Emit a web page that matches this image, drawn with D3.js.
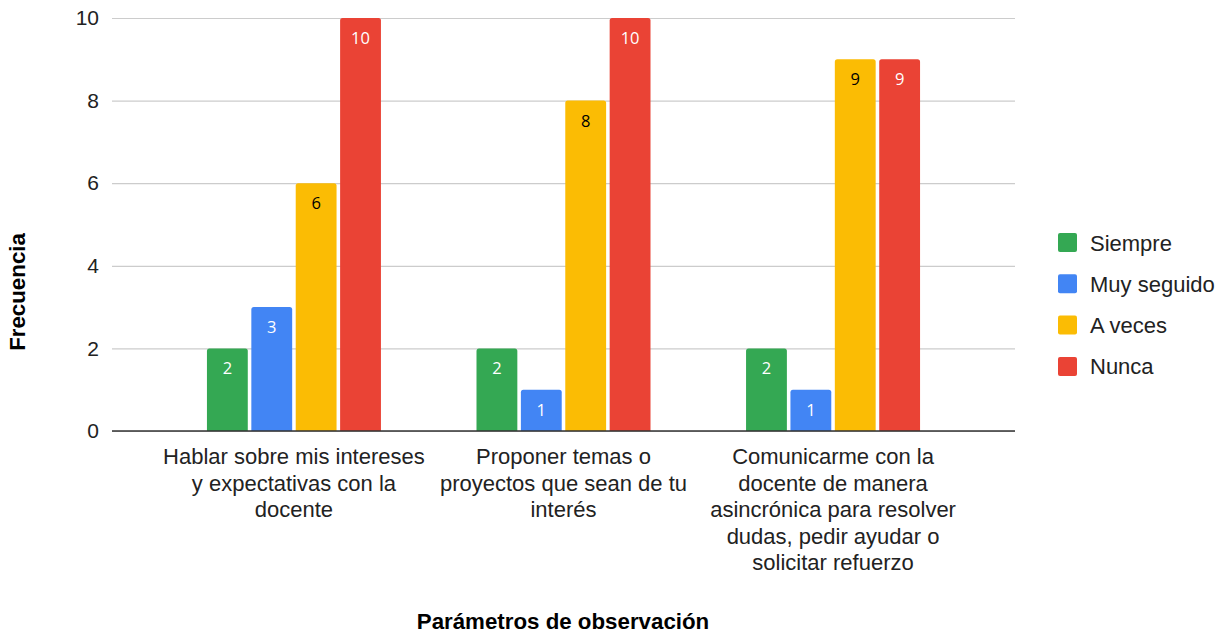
<!DOCTYPE html>
<html>
<head>
<meta charset="utf-8">
<script src="https://cdn.jsdelivr.net/npm/d3@7"></script>
<style>
  body { margin: 0; background: #fff; }
  svg { display: block; }
</style>
</head>
<body>
<svg id="chart" width="1225" height="633"></svg>
<script>

var categories = [
	[ 'Hablar sobre mis intereses', 'y expectativas con la', 'docente' ],
	[ 'Proponer temas o', 'proyectos que sean de tu', 'interés' ],
	[ 'Comunicarme con la', 'docente de manera', 'asincrónica para resolver', 'dudas, pedir ayudar o', 'solicitar refuerzo' ]
];
var seriesNames = [ 'Siempre', 'Muy seguido', 'A veces', 'Nunca' ];
var seriesColors = [ '#34a853', '#4285f4', '#fbbc04', '#ea4335' ];
var labelColors = [ '#ffffff', '#ffffff', '#000000', '#ffffff' ];
var siempre = [ 2, 2, 2 ];
var muySeguido = [ 3, 1, 1 ];
var aVeces = [ 6, 8, 9 ];
var nunca = [ 10, 10, 9 ];
var yTicks = [ 0, 2, 4, 6, 8, 10 ];

var values = [ siempre, muySeguido, aVeces, nunca ];

var font = '"Liberation Sans", Arial, sans-serif';
var plot = { left: 112, right: 1015, top: 18, bottom: 431 };
var svg = d3.select( '#chart' );

var x0 = d3.scalePoint()
	.domain( d3.range( categories.length ) )
	.range( [ plot.left, plot.right ] )
	.padding( 0.675 );

var x1 = d3.scaleBand()
	.domain( d3.range( seriesNames.length ) )
	.range( [ -87, 87 ] )
	.paddingInner( 0.08 );

var y = d3.scaleLinear().domain( [ 0, 10 ] ).range( [ plot.bottom, plot.top ] );

// gridlines + y labels
var yAxis = d3.axisLeft( y )
	.tickValues( yTicks )
	.tickSize( -( plot.right - plot.left ) )
	.tickPadding( 13 );

var gy = svg.append( 'g' )
	.attr( 'transform', 'translate(' + plot.left + ',0)' )
	.call( yAxis );
gy.select( '.domain' ).remove();
gy.selectAll( '.tick line' ).attr( 'stroke', '#cccccc' ).attr( 'stroke-width', 1.2 );
gy.selectAll( '.tick text' )
	.attr( 'font-family', font )
	.attr( 'font-size', 21 )
	.attr( 'fill', '#222' );

// bars
var bars = svg.append( 'g' );
values.forEach( function ( series, s ) {
	series.forEach( function ( v, c ) {
		var bx = x0( c ) + x1( s );
		var bw = x1.bandwidth();
		var by = y( v );
		var bh = y( 0 ) - by;
		var r = 2.5;
		bars.append( 'path' )
			.attr( 'fill', seriesColors[s] )
			.attr( 'd', 'M' + bx + ',' + ( by + bh ) +
				'V' + ( by + r ) +
				'Q' + bx + ',' + by + ' ' + ( bx + r ) + ',' + by +
				'H' + ( bx + bw - r ) +
				'Q' + ( bx + bw ) + ',' + by + ' ' + ( bx + bw ) + ',' + ( by + r ) +
				'V' + ( by + bh ) + 'Z' );
		bars.append( 'text' )
			.attr( 'x', bx + bw / 2 )
			.attr( 'y', by + 26 )
			.attr( 'text-anchor', 'middle' )
			.attr( 'font-family', '"Open Sans", Roboto, sans-serif' )
			.attr( 'font-size', 16.5 )
			.attr( 'fill', labelColors[s] )
			.text( v );
	} );
} );

// baseline
svg.append( 'line' )
	.attr( 'x1', plot.left ).attr( 'x2', plot.right )
	.attr( 'y1', y( 0 ) ).attr( 'y2', y( 0 ) )
	.attr( 'stroke', '#333' ).attr( 'stroke-width', 1.5 );

// category labels
categories.forEach( function ( lines, c ) {
	var t = svg.append( 'text' )
		.attr( 'text-anchor', 'middle' )
		.attr( 'font-family', font )
		.attr( 'font-size', 22 )
		.attr( 'fill', '#222' );
	lines.forEach( function ( line, i ) {
		t.append( 'tspan' )
			.attr( 'x', x0( c ) )
			.attr( 'y', 464 + i * 26.5 )
			.text( line );
	} );
} );

// axis titles
svg.append( 'text' )
	.attr( 'transform', 'translate(25,292) rotate(-90)' )
	.attr( 'text-anchor', 'middle' )
	.attr( 'font-family', font )
	.attr( 'font-weight', 'bold' )
	.attr( 'font-size', 22.3 )
	.attr( 'fill', '#000' )
	.text( 'Frecuencia' );

svg.append( 'text' )
	.attr( 'x', 563 )
	.attr( 'y', 629 )
	.attr( 'text-anchor', 'middle' )
	.attr( 'font-family', font )
	.attr( 'font-weight', 'bold' )
	.attr( 'font-size', 22.3 )
	.attr( 'fill', '#000' )
	.text( 'Parámetros de observación' );

// legend
var legend = svg.append( 'g' ).attr( 'transform', 'translate(1058,233)' );
seriesNames.forEach( function ( name, i ) {
	var g = legend.append( 'g' ).attr( 'transform', 'translate(0,' + ( i * 41.3 ) + ')' );
	g.append( 'rect' )
		.attr( 'width', 19 ).attr( 'height', 19 )
		.attr( 'rx', 2 )
		.attr( 'fill', seriesColors[i] );
	g.append( 'text' )
		.attr( 'x', 32 )
		.attr( 'y', 17.5 )
		.attr( 'font-family', font )
		.attr( 'font-size', 22 )
		.attr( 'fill', '#222' )
		.text( name );
} );

</script>
</body>
</html>
